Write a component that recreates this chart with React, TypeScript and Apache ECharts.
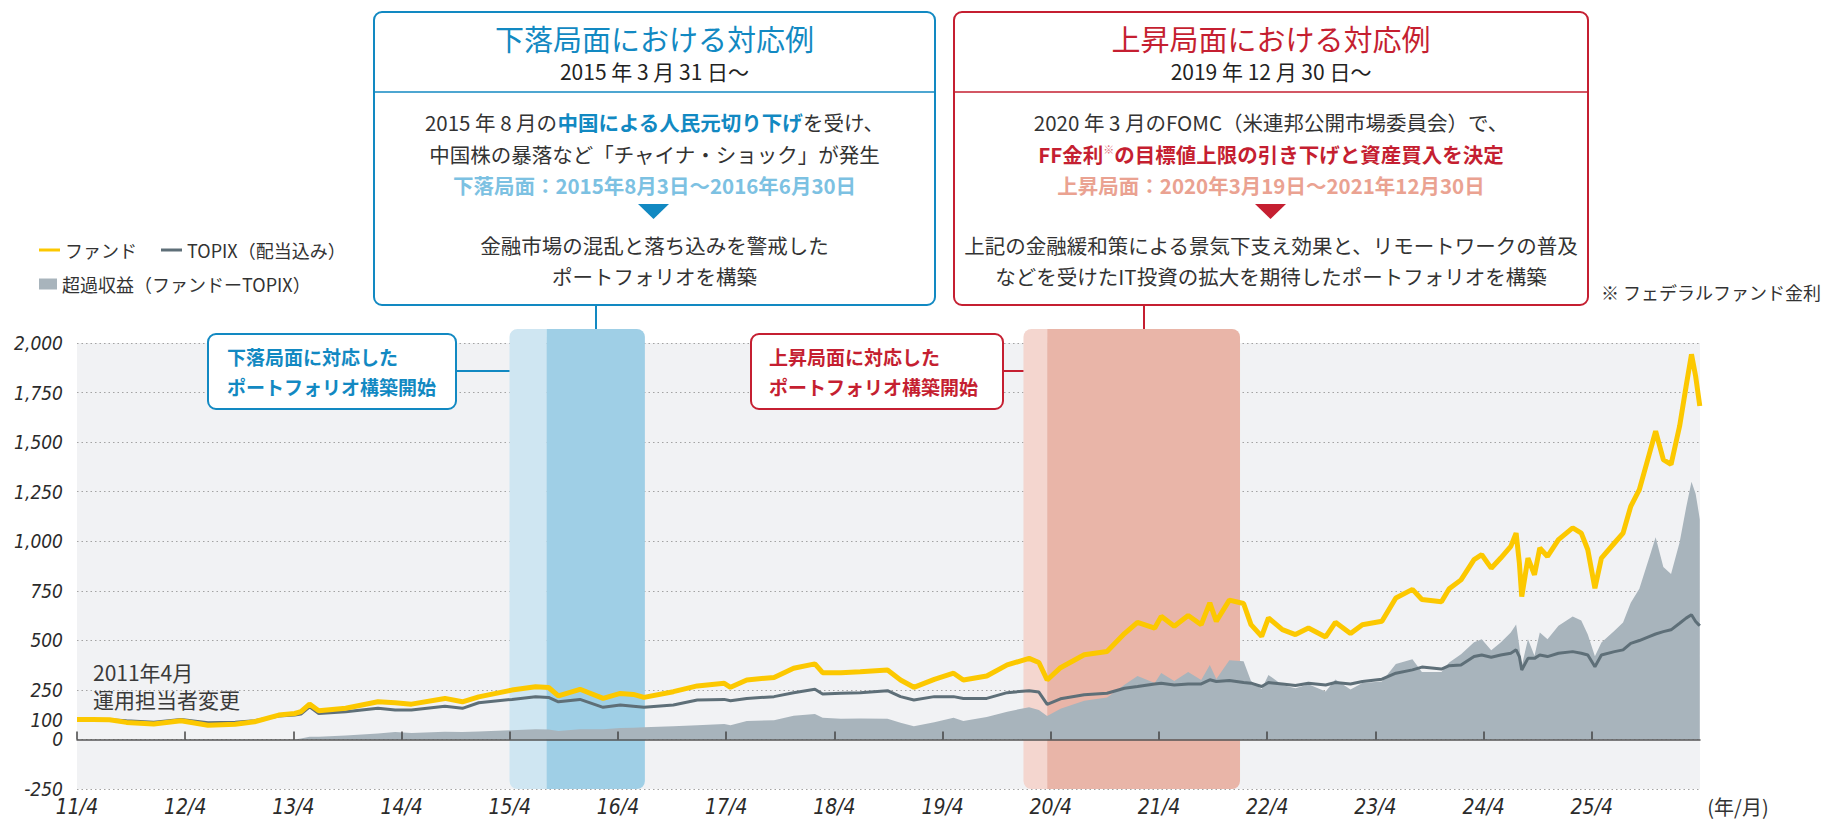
import { useEffect, useRef } from 'react';
import * as echarts from 'echarts';

// ---- data ----
const dates = [
  '2011-04-01','2011-05-25','2011-07-20','2011-09-15','2011-12-16','2012-03-17','2012-06-16','2012-09-16','2012-11-20','2013-02-10',
  '2013-04-05','2013-04-26','2013-05-25','2013-06-25','2013-09-24','2014-01-11','2014-03-10','2014-05-04','2014-08-25','2014-10-23',
  '2014-12-17','2015-04-08','2015-06-27','2015-08-10','2015-09-12','2015-11-24','2016-02-10','2016-04-08','2016-05-22','2016-06-27',
  '2016-10-04','2016-12-24','2017-03-25','2017-04-15','2017-06-09','2017-09-09','2017-11-14','2018-01-25','2018-02-20','2018-04-23',
  '2018-06-27','2018-09-27','2018-11-10','2018-12-25','2019-03-04','2019-05-08','2019-06-10','2019-08-28','2019-11-05','2020-01-18',
  '2020-02-20','2020-03-19','2020-05-03','2020-07-22','2020-10-07','2020-12-05','2021-01-18','2021-03-17','2021-04-08','2021-05-22',
  '2021-07-08','2021-08-21','2021-09-19','2021-10-11','2021-11-24','2022-01-11','2022-02-05','2022-03-13','2022-04-05','2022-05-22',
  '2022-07-05','2022-08-18','2022-10-15','2022-11-17','2023-01-07','2023-02-16','2023-04-23','2023-06-09','2023-08-04','2023-09-05',
  '2023-11-10','2023-12-06','2024-01-15','2024-02-28','2024-03-25','2024-04-26','2024-05-28','2024-07-01','2024-07-19','2024-07-30',
  '2024-08-07','2024-08-28','2024-09-19','2024-10-07','2024-11-02','2024-12-09','2025-01-26','2025-02-24','2025-03-18','2025-04-11',
  '2025-05-03','2025-06-16','2025-07-15','2025-08-10','2025-09-08','2025-10-11','2025-11-02','2025-11-28','2025-12-24','2026-01-22',
  '2026-02-13','2026-03-03','2026-03-17','2026-03-28','2026-03-31',
];
const fund = [
  100,100,99,86,78,94,72,77,89,123,
  131,140,178,145,157,190,185,178,207,190,
  215,249,266,262,220,253,207,232,227,212,
  241,270,283,263,300,313,359,381,337,337,
  342,350,300,263,303,334,300,320,376,409,
  388,300,362,427,444,534,591,562,621,571,
  625,579,689,596,703,686,579,520,613,554,
  529,562,517,591,534,579,596,714,757,706,
  695,760,805,907,932,864,915,974,1041,890,
  721,915,831,966,923,1008,1067,1041,957,763,
  915,991,1041,1176,1260,1437,1555,1412,1387,1581,
  1783,1943,1833,1715,1682,
];
const topix = [
  100,101,100,94,87,101,84,87,94,118,
  123,128,165,131,140,157,148,148,168,157,
  185,202,215,212,190,202,162,174,168,162,
  174,199,202,195,207,216,236,253,229,233,
  236,246,216,199,216,216,207,207,236,246,
  239,177,205,225,233,258,267,280,284,275,
  280,280,301,292,297,287,284,267,287,280,
  272,284,275,287,280,292,304,334,351,365,
  355,372,376,418,426,415,426,435,452,418,
  350,409,409,426,418,435,443,435,426,367,
  426,443,452,485,499,519,532,544,553,586,
  612,629,595,578,573,
];
const excess = [
  0,0,0,0,0,0,0,0,0,0,
  0,5,13,14,20,30,37,32,39,38,
  40,47,51,50,42,51,52,58,59,62,
  67,71,78,72,93,97,120,128,110,104,
  106,104,84,66,87,110,93,113,140,163,
  149,118,155,195,211,276,320,285,335,295,
  340,300,375,305,400,395,295,255,325,275,
  258,278,242,303,252,285,292,380,405,340,
  340,388,430,490,506,450,489,540,580,470,
  371,505,422,540,505,573,620,600,530,420,
  489,548,590,690,760,915,1020,870,835,995,
  1170,1300,1240,1140,1110,
];

const yLabelValues = [-250, 0, 100, 250, 500, 750, 1000, 1250, 1500, 1750, 2000];
const xTickLabels = ['11/4','12/4','13/4','14/4','15/4','16/4','17/4','18/4','19/4','20/4','21/4','22/4','23/4','24/4','25/4'];
const downPeriod = ['2015-03-31', '2015-08-03', '2016-06-30'];
const upPeriod = ['2019-12-30', '2020-03-19', '2021-12-30'];

// ---- helpers ----
const T0 = Date.UTC(2011, 3, 1);
const YEAR = 365.25 * 86400000;
const toT = (s: string) => {
  const [y, m, d] = s.split('-').map(Number);
  return (Date.UTC(y, m - 1, d) - T0) / YEAR;
};

const JP = "'Noto Sans CJK JP', 'Noto Sans', sans-serif";
const NUM = "'Liberation Sans Narrow', 'DejaVu Sans Condensed', 'Roboto Condensed', 'Liberation Sans', sans-serif";
const BLUE = '#1289c2';
const LBLUE_TXT = '#7cc1e2';
const RED = '#c51f31';
const SALMON = '#eaa291';
const TXT = '#333333';
const FUND_C = '#fcc800';
const TOPIX_C = '#5e6f78';
const EXC_C = '#a8b4bc';

export default function App() {
  const ref = useRef<HTMLDivElement>(null);
  useEffect(() => {
    document.body.style.margin = '0';
    const chart = echarts.init(ref.current!, null, { renderer: 'svg' });
    const xs = dates.map(toT);
    const pts = (arr: number[]) => arr.map((v, i) => [xs[i], v]);
    const xTicks = xTickLabels.map((_, i) => i);

    chart.setOption({
      animation: false,
      grid: { left: 77, right: 125, top: 343, bottom: 32, show: true, backgroundColor: '#f1f2f4', borderWidth: 0 },
      legend: [
        {
          left: 34, top: 236, itemGap: 24, itemWidth: 21, itemHeight: 3, icon: 'rect',
          selectedMode: false,
          textStyle: { color: TXT, fontSize: 18, fontFamily: JP },
          data: ['ファンド', 'TOPIX（配当込み）'],
        },
        {
          left: 34, top: 270, itemWidth: 18, itemHeight: 11, icon: 'rect',
          selectedMode: false,
          textStyle: { color: TXT, fontSize: 18, fontFamily: JP },
          data: ['超過収益（ファンドーTOPIX）'],
        },
      ],
      xAxis: [
        {
          type: 'value', min: 0, max: 15, interval: 1, position: 'bottom', z: 5,
          axisLine: { show: true, onZero: true, lineStyle: { color: '#555', width: 1.5 } },
          axisTick: { show: true, inside: true, length: 8, customValues: xTicks, lineStyle: { color: '#444', width: 1.5 } },
          axisLabel: { show: false },
          splitLine: { show: false },
        },
        {
          type: 'value', min: 0, max: 15, interval: 1, position: 'bottom',
          axisLine: { show: false, onZero: false },
          axisTick: { show: false },
          splitLine: { show: false },
          axisLabel: {
            show: true, customValues: xTicks, margin: 7,
            formatter: (v: number) => xTickLabels[Math.round(v)] ?? '',
            fontFamily: NUM, fontStyle: 'italic', fontSize: 21, color: '#2b2b2b',
          },
        },
      ],
      yAxis: {
        type: 'value', min: -250, max: 2000, interval: 250,
        axisLine: { show: false }, axisTick: { show: false },
        splitLine: { show: true, lineStyle: { color: '#a3a3a3', width: 1, type: [1.5, 3] } },
        axisLabel: {
          customValues: yLabelValues, margin: 14,
          formatter: (v: number) => v.toLocaleString('en-US'),
          fontFamily: NUM, fontStyle: 'italic', fontSize: 19, lineHeight: 19, color: '#2b2b2b',
        },
      },
      series: [
        {
          name: '超過収益（ファンドーTOPIX）', type: 'line', data: pts(excess), showSymbol: false, z: 2,
          itemStyle: { color: EXC_C }, lineStyle: { width: 0, color: EXC_C },
          areaStyle: { color: EXC_C, opacity: 1 },
        },
        {
          name: 'TOPIX（配当込み）', type: 'line', data: pts(topix), showSymbol: false, z: 3,
          itemStyle: { color: TOPIX_C }, lineStyle: { width: 3, color: TOPIX_C },
        },
        {
          name: 'ファンド', type: 'line', data: pts(fund), showSymbol: false, z: 4,
          itemStyle: { color: FUND_C }, lineStyle: { width: 5, color: FUND_C },
        },
      ],
    });

    const px = (d: string) => chart.convertToPixel({ xAxisIndex: 0 }, toT(d)) as number;
    const py = (v: number) => chart.convertToPixel({ yAxisIndex: 0 }, v) as number;
    const bandTop = py(2000) - 14;
    const bandBot = py(-250);
    const band = (a: string, b: string, fill: string, r: number[]) => ({
      type: 'rect', z: 1, silent: true,
      shape: { x: px(a), y: bandTop, width: px(b) - px(a), height: bandBot - bandTop, r },
      style: { fill },
    });
    const txt = (x: number, y: number, text: string, fill: string, fontSize: number, extra: any = {}) => ({
      type: 'text', z: 12, x, y, silent: true,
      style: { text, fill, fontSize, fontFamily: JP, align: 'center', verticalAlign: 'middle', ...extra },
    });
    const rich = (fs: number) => ({
      n: { fontSize: fs, fill: TXT, color: TXT, fontFamily: JP },
      b: { fontSize: fs, fill: BLUE, color: BLUE, fontFamily: JP, fontWeight: 'bold' },
      r: { fontSize: fs, fill: RED, color: RED, fontFamily: JP, fontWeight: 'bold' },
      s: { fontSize: 11, fill: '#e0707a', color: '#e0707a', fontFamily: JP, verticalAlign: 'top', padding: [0, 0, 10, 0] },
    });
    const FS = 20.5;
    const L = { x: 374, w: 561 };
    const R = { x: 954, w: 634 };
    const lc = L.x + L.w / 2;
    const rc = R.x + R.w / 2;

    chart.setOption({
      graphic: [
        band(downPeriod[0], downPeriod[1], '#cfe6f2', [8, 0, 0, 8]),
        band(downPeriod[1], downPeriod[2], '#9fcfe6', [0, 8, 8, 0]),
        band(upPeriod[0], upPeriod[1], '#f4d6cf', [8, 0, 0, 8]),
        band(upPeriod[1], upPeriod[2], '#e9b5a8', [0, 8, 8, 0]),
        // connectors
        { type: 'line', z: 10, shape: { x1: 596, y1: 305, x2: 596, y2: bandTop }, style: { stroke: BLUE, lineWidth: 2 } },
        { type: 'line', z: 10, shape: { x1: 456, y1: 371, x2: px(downPeriod[0]), y2: 371 }, style: { stroke: BLUE, lineWidth: 2 } },
        { type: 'line', z: 10, shape: { x1: 1144, y1: 305, x2: 1144, y2: bandTop }, style: { stroke: RED, lineWidth: 2 } },
        { type: 'line', z: 10, shape: { x1: 1003, y1: 371, x2: px(upPeriod[0]), y2: 371 }, style: { stroke: RED, lineWidth: 2 } },
        // left big box
        { type: 'rect', z: 10, shape: { x: L.x, y: 12, width: L.w, height: 293, r: 8 }, style: { fill: '#fff', stroke: BLUE, lineWidth: 2 } },
        { type: 'line', z: 11, shape: { x1: L.x, y1: 92, x2: L.x + L.w, y2: 92 }, style: { stroke: BLUE, lineWidth: 1.5 } },
        txt(lc, 38, '下落局面における対応例', BLUE, 29),
        txt(lc, 71, '2015 年 3 月 31 日〜', '#222', 21),
        txt(lc, 121.5, '{n|2015 年 8 月の}{b|中国による人民元切り下げ}{n|を受け、}', TXT, FS, { rich: rich(FS) }),
        txt(lc, 153.5, '中国株の暴落など「チャイナ・ショック」が発生', TXT, FS),
        txt(lc, 185, '下落局面：2015年8月3日〜2016年6月30日', LBLUE_TXT, FS, { fontWeight: 'bold' }),
        { type: 'polygon', z: 11, shape: { points: [[638, 204], [669, 204], [653.5, 219]] }, style: { fill: BLUE } },
        txt(lc, 245, '金融市場の混乱と落ち込みを警戒した', TXT, FS),
        txt(lc, 275.5, 'ポートフォリオを構築', TXT, FS),
        // right big box
        { type: 'rect', z: 10, shape: { x: R.x, y: 12, width: R.w, height: 293, r: 8 }, style: { fill: '#fff', stroke: RED, lineWidth: 2 } },
        { type: 'line', z: 11, shape: { x1: R.x, y1: 92, x2: R.x + R.w, y2: 92 }, style: { stroke: RED, lineWidth: 1.5 } },
        txt(rc, 38, '上昇局面における対応例', RED, 29),
        txt(rc, 71, '2019 年 12 月 30 日〜', '#222', 21),
        txt(rc, 121.5, '2020 年 3 月のFOMC（米連邦公開市場委員会）で、', TXT, FS),
        txt(rc, 153.5, '{r|FF金利}{s|※}{r|の目標値上限の引き下げと資産買入を決定}', RED, FS, { rich: rich(FS) }),
        txt(rc, 185, '上昇局面：2020年3月19日〜2021年12月30日', SALMON, FS, { fontWeight: 'bold' }),
        { type: 'polygon', z: 11, shape: { points: [[1255, 204], [1286, 204], [1270.5, 219]] }, style: { fill: RED } },
        txt(rc, 245, '上記の金融緩和策による景気下支え効果と、リモートワークの普及', TXT, FS),
        txt(rc, 275.5, 'などを受けたIT投資の拡大を期待したポートフォリオを構築', TXT, FS),
        // small callout boxes
        { type: 'rect', z: 10, shape: { x: 208, y: 334, width: 248, height: 75, r: 8 }, style: { fill: '#fff', stroke: BLUE, lineWidth: 2 } },
        txt(227, 356, '下落局面に対応した', BLUE, 19, { align: 'left', fontWeight: 'bold' }),
        txt(227, 386, 'ポートフォリオ構築開始', BLUE, 19, { align: 'left', fontWeight: 'bold' }),
        { type: 'rect', z: 10, shape: { x: 751, y: 334, width: 252, height: 75, r: 8 }, style: { fill: '#fff', stroke: RED, lineWidth: 2 } },
        txt(769, 356, '上昇局面に対応した', RED, 19, { align: 'left', fontWeight: 'bold' }),
        txt(769, 386, 'ポートフォリオ構築開始', RED, 19, { align: 'left', fontWeight: 'bold' }),
        // misc texts
        txt(1821, 292, '※ フェデラルファンド金利', TXT, 18, { align: 'right' }),
        txt(93, 672, '2011年4月', '#3a3a3a', 21, { align: 'left' }),
        txt(93, 699, '運用担当者変更', '#3a3a3a', 21, { align: 'left' }),
        txt(1738, 806, '(年/月)', TXT, 20),
      ],
    });

    return () => chart.dispose();
  }, []);
  return <div ref={ref} style={{ width: 1825, height: 821 }} />;
}
